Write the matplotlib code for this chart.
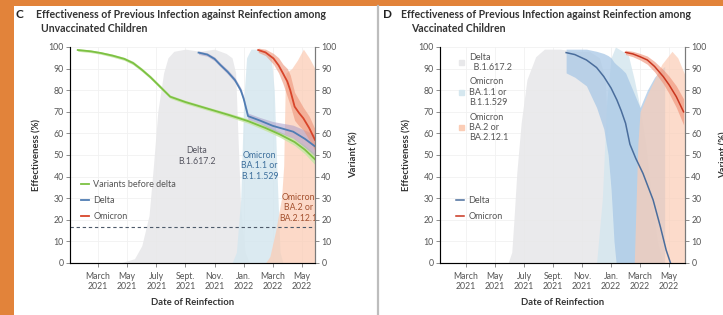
import matplotlib
matplotlib.use("Agg")
import matplotlib.pyplot as plt
from matplotlib.patches import Rectangle, Patch
from matplotlib.lines import Line2D

plt.rcParams['font.family'] = ['Lato', 'DejaVu Sans']

# months since Jan 1, 2021
tick_months = [2, 4, 6, 8, 10, 12, 14, 16]
tick_labels = ['March\n2021', 'May\n2021', 'July\n2021', 'Sept.\n2021',
               'Nov.\n2021', 'Jan.\n2022', 'March\n2022', 'May\n2022']

# ---- panel C: unvaccinated children ----
c_var_delta_x = [3.5, 4.5, 5.0, 5.5, 5.8, 6.1, 6.5, 6.8, 7.2, 8.0, 9.0, 10.0, 10.8, 11.2, 11.45, 11.6, 11.8, 12.1, 12.4]
c_var_delta_y = [0, 2, 8, 22, 45, 70, 88, 95, 98, 99, 98, 99, 97, 95, 88, 60, 25, 5, 0]
c_var_ba1_x = [11.2, 11.5, 11.8, 12.0, 12.2, 12.5, 13.0, 13.5, 13.9, 14.1, 14.3, 14.5, 14.7]
c_var_ba1_y = [0, 5, 30, 75, 95, 99, 99, 98, 95, 80, 40, 5, 0]
c_var_ba2_x = [13.5, 13.8, 14.2, 14.6, 14.75, 14.85, 14.9, 15.3, 15.7, 16.1, 16.5, 16.9]
c_var_ba2_y = [0, 3, 15, 30, 45, 80, 88, 90, 94, 99, 95, 90]

c_prev_x = [0.6, 1.5, 2.2, 3.0, 3.8, 4.4, 5.0, 5.6, 6.2, 6.95, 8.0, 9.0, 10.0, 11.0, 12.3, 13.5, 14.5, 15.5, 16.2, 16.9]
c_prev_y = [98.6, 98.0, 97.2, 96.0, 94.5, 92.6, 89.5, 86.0, 82.0, 77.0, 74.5, 72.5, 70.5, 68.5, 65.7, 62.5, 59.5, 56.0, 52.5, 48.0]
c_prev_lo = [98.0, 97.4, 96.6, 95.3, 93.8, 91.8, 88.7, 85.2, 81.2, 76.2, 73.7, 71.7, 69.7, 67.6, 64.7, 61.3, 58.2, 54.4, 50.6, 45.5]
c_prev_hi = [99.2, 98.6, 97.8, 96.7, 95.2, 93.4, 90.3, 86.8, 82.8, 77.8, 75.3, 73.3, 71.3, 69.4, 66.7, 63.7, 60.8, 57.6, 54.4, 50.5]

c_delta_x = [8.9, 9.5, 10.0, 10.4, 10.9, 11.4, 11.8, 12.0, 12.15, 12.3, 13.1, 14.0, 15.4, 16.2, 16.9]
c_delta_y = [97.4, 96.5, 94.5, 91.7, 88.5, 84.7, 80.0, 76.0, 72.0, 68.0, 66.0, 63.5, 60.8, 57.5, 54.0]
c_delta_lo = [96.6, 95.7, 93.6, 90.8, 87.5, 83.6, 78.8, 74.7, 70.6, 66.6, 64.6, 61.5, 57.8, 53.5, 49.5]
c_delta_hi = [98.2, 97.3, 95.4, 92.6, 89.5, 85.8, 81.2, 77.3, 73.4, 69.4, 67.4, 65.5, 63.8, 61.5, 59.5]

c_omi_x = [13.0, 13.5, 14.05, 14.4, 14.7, 15.0, 15.2, 15.5, 15.8, 16.1, 16.5, 16.9]
c_omi_y = [98.6, 97.5, 94.7, 91.5, 87.8, 84.0, 80.0, 72.4, 69.5, 67.0, 62.5, 57.0]
c_omi_lo = [97.5, 96.0, 92.0, 88.0, 83.0, 77.0, 73.0, 66.0, 63.5, 61.5, 57.0, 52.0]
c_omi_hi = [99.5, 99.0, 97.0, 95.0, 92.0, 90.0, 87.0, 79.0, 75.5, 72.0, 68.0, 62.0]

c_threshold = 16.5

# ---- panel D: vaccinated children ----
d_var_delta_x = [4.9, 5.15, 5.3, 5.5, 5.8, 6.2, 6.8, 7.4, 8.5, 9.5, 10.5, 11.2, 11.6, 11.9, 12.2, 12.5]
d_var_delta_y = [0, 5, 20, 42, 65, 85, 95.5, 99, 99, 98, 98, 95, 85, 40, 8, 0]
d_var_ba1_x = [11.0, 11.4, 11.7, 12.0, 12.3, 12.8, 13.2, 13.6, 14.0, 14.4, 14.8, 15.2, 15.6]
d_var_ba1_y = [0, 30, 75, 95, 100, 98, 96, 85, 72, 55, 30, 10, 0]
d_var_ba2_x = [13.6, 13.85, 14.0, 14.5, 15.0, 15.5, 16.2, 16.6, 17.1]
d_var_ba2_y = [0, 55, 70, 78, 85, 92, 98, 95, 87]

d_delta_x = [8.9, 9.5, 10.3, 11.0, 11.5, 12.0, 12.4, 12.7, 13.0, 13.3, 13.7, 14.2, 14.9, 15.4, 15.8, 16.1]
d_delta_y = [97.4, 96.5, 94.0, 90.5, 86.3, 81.0, 75.5, 70.5, 64.7, 55.0, 48.5, 41.5, 29.2, 16.8, 6.0, 0.0]
d_band_x = [8.9, 9.5, 10.3, 11.0, 11.5, 11.8, 12.0, 12.2, 12.35, 12.7, 13.0, 13.5, 14.0, 14.5, 15.0, 15.5, 15.7]
d_band_lo = [88, 86, 82, 72, 62, 50, 34, 10, 0, 0, 0, 0, 0, 0, 0, 0, 0]
d_band_hi = [99, 99, 99, 98, 97, 96, 95, 93, 92, 90, 88, 80, 72, 80, 86, 90, 91]

d_omi_x = [13.0, 13.5, 14.0, 14.5, 15.0, 15.6, 16.0, 16.5, 17.0]
d_omi_y = [97.5, 96.8, 95.5, 94.0, 91.0, 86.3, 82.5, 77.0, 70.0]
d_omi_lo = [96.5, 95.5, 94.0, 92.0, 88.5, 83.0, 78.5, 72.0, 64.0]
d_omi_hi = [98.5, 98.0, 97.0, 95.8, 93.3, 89.5, 86.5, 82.0, 76.0]

# colours
ORANGE_BG = '#e2833a'
GRAY_VAR = '#e8e8ea'
BLUE_VAR = '#d5e7ef'
PEACH_VAR = '#fbcdb6'
GREEN = '#7cc142'
BLUE = '#4f7db3'
RED = '#d8452a'
TXT = '#555555'
AX = '#7a7a7a'

fig = plt.figure(figsize=(7.23, 3.15), dpi=100)
fig.patch.set_facecolor(ORANGE_BG)
fig.add_artist(Rectangle((14 / 723, 0), 1, 309 / 315, transform=fig.transFigure,
                         facecolor='white', edgecolor='none', zorder=-5))
fig.add_artist(Line2D([378 / 723, 378 / 723], [0, 309 / 315], transform=fig.transFigure,
                      color='#bdbdbd', lw=1.6, zorder=-4))


def setup_axes(ax, xlim):
    ax.set_xlim(*xlim)
    ax.set_ylim(0, 100)
    ax.set_xticks(tick_months)
    ax.set_xticklabels(tick_labels, fontsize=6.3, color=TXT, linespacing=1.1)
    ax.set_yticks(range(0, 101, 10))
    ax.tick_params(axis='both', colors=AX, labelcolor=TXT, labelsize=6.3, length=3, width=0.6, pad=1.5)
    ax.tick_params(axis='x', pad=3.5)
    ax.grid(True, color='#f1f1f1', lw=0.6)
    ax.set_axisbelow(True)
    for s in ['left', 'bottom', 'right']:
        ax.spines[s].set_color(AX)
        ax.spines[s].set_linewidth(0.8)
    ax.spines['top'].set_visible(False)
    ax.set_ylabel('Effectiveness (%)', fontsize=6.8, fontweight='bold', color='#333333', labelpad=5)
    ax.set_xlabel('Date of Reinfection', fontsize=6.8, fontweight='bold', color='#333333', labelpad=5)
    ax2 = ax.twinx()
    ax2.set_ylim(0, 100)
    ax2.set_yticks(range(0, 101, 10))
    ax2.tick_params(axis='y', colors=AX, labelcolor=TXT, labelsize=6.3, length=3, width=0.6, pad=1.5)
    ax2.spines['top'].set_visible(False)
    ax2.spines['right'].set_color(AX)
    ax2.spines['right'].set_linewidth(0.8)
    ax2.set_ylabel('Variant (%)', fontsize=6.8, fontweight='bold', color='#333333', labelpad=9)
    return ax2


# ---------------- panel C ----------------
axC = fig.add_axes([70 / 723, 1 - 263 / 315, 245 / 723, 216 / 315])
axC.fill_between(c_var_delta_x, 0, c_var_delta_y, color=GRAY_VAR, lw=0, alpha=0.9)
axC.fill_between(c_var_ba1_x, 0, c_var_ba1_y, color=BLUE_VAR, lw=0, alpha=0.85)
axC.fill_between(c_var_ba2_x, 0, c_var_ba2_y, color=PEACH_VAR, lw=0, alpha=0.75)

axC.fill_between(c_prev_x, c_prev_lo, c_prev_hi, color='#c9e6a8', lw=0, alpha=0.9)
axC.fill_between(c_delta_x, c_delta_lo, c_delta_hi, color='#a99cc8', lw=0, alpha=0.55)
axC.fill_between(c_omi_x, c_omi_lo, c_omi_hi, color='#ee9478', lw=0, alpha=0.6)
axC.plot(c_prev_x, c_prev_y, color=GREEN, lw=1.3, label='Variants before delta')
axC.plot(c_delta_x, c_delta_y, color=BLUE, lw=1.3, label='Delta')
axC.plot(c_omi_x, c_omi_y, color=RED, lw=1.3, label='Omicron')
axC.axhline(c_threshold, color='#4d5a6a', lw=0.8, ls=(0, (3, 2.5)))

axC.text(8.8, 49.5, 'Delta\nB.1.617.2', fontsize=6.3, color='#555560', ha='center', va='center', linespacing=1.2)
axC.text(13.1, 45, 'Omicron\nBA.1.1 or\nB.1.1.529', fontsize=6.3, color='#3d6f9c', ha='center', va='center', linespacing=1.2)
axC.text(15.75, 25.5, 'Omicron\nBA.2 or\nBA.2.12.1', fontsize=6.3, color='#a4512f', ha='center', va='center', linespacing=1.2)

setup_axes(axC, (0.07, 16.9))
axC.legend(loc='upper left', bbox_to_anchor=(0.025, 0.405), frameon=False, fontsize=6.5,
           handlelength=0.9, handletextpad=0.5, labelspacing=0.8, borderpad=0, labelcolor=TXT)

fig.text(16 / 723, 1 - 15 / 315, 'C', fontsize=8.5, fontweight='bold', color='#222222', va='center')
fig.text(36 / 723, 1 - 15 / 315, 'Effectiveness of Previous Infection against Reinfection among',
         fontsize=7.6, fontweight='bold', color='#333333', va='center')
fig.text(41 / 723, 1 - 29 / 315, 'Unvaccinated Children',
         fontsize=7.6, fontweight='bold', color='#333333', va='center')

# ---------------- panel D ----------------
axD = fig.add_axes([440 / 723, 1 - 263 / 315, 245 / 723, 216 / 315])
axD.fill_between(d_var_delta_x, 0, d_var_delta_y, color=GRAY_VAR, lw=0, alpha=0.9)
axD.fill_between(d_var_ba1_x, 0, d_var_ba1_y, color=BLUE_VAR, lw=0, alpha=0.85)
axD.fill_between(d_band_x, d_band_lo, d_band_hi, color='#a9c8e6', lw=0, alpha=0.75)
axD.fill_between(d_var_ba2_x, 0, d_var_ba2_y, color=PEACH_VAR, lw=0, alpha=0.7)
axD.fill_between(d_omi_x, d_omi_lo, d_omi_hi, color='#ef8d72', lw=0, alpha=0.6)
axD.plot(d_delta_x, d_delta_y, color='#4a6d9c', lw=1.1, label='Delta')
axD.plot(d_omi_x, d_omi_y, color='#c9361f', lw=1.1, label='Omicron')

setup_axes(axD, (0.2, 17.1))
line_leg = axD.legend(loc='upper left', bbox_to_anchor=(0.045, 0.33), frameon=False, fontsize=6.5,
                      handlelength=0.9, handletextpad=0.5, labelspacing=0.8, borderpad=0, labelcolor=TXT)
axD.add_artist(line_leg)
var_handles = [Patch(color=GRAY_VAR), Patch(color=BLUE_VAR), Patch(color=PEACH_VAR)]
var_labels = ['Delta\n  B.1.617.2', 'Omicron\nBA.1.1 or\nB.1.1.529', 'Omicron\nBA.2 or\nBA.2.12.1']
axD.legend(var_handles, var_labels, loc='upper left', bbox_to_anchor=(0.06, 0.995), frameon=False,
           fontsize=6.5, handlelength=0.5, handleheight=0.5, handletextpad=0.6, labelspacing=0.6,
           borderpad=0, labelcolor=TXT)

fig.text(383 / 723, 1 - 15 / 315, 'D', fontsize=8.5, fontweight='bold', color='#222222', va='center')
fig.text(401 / 723, 1 - 15 / 315, 'Effectiveness of Previous Infection against Reinfection among',
         fontsize=7.6, fontweight='bold', color='#333333', va='center')
fig.text(411 / 723, 1 - 29 / 315, 'Vaccinated Children',
         fontsize=7.6, fontweight='bold', color='#333333', va='center')

fig.savefig('out.png', dpi=100, facecolor=fig.get_facecolor())
